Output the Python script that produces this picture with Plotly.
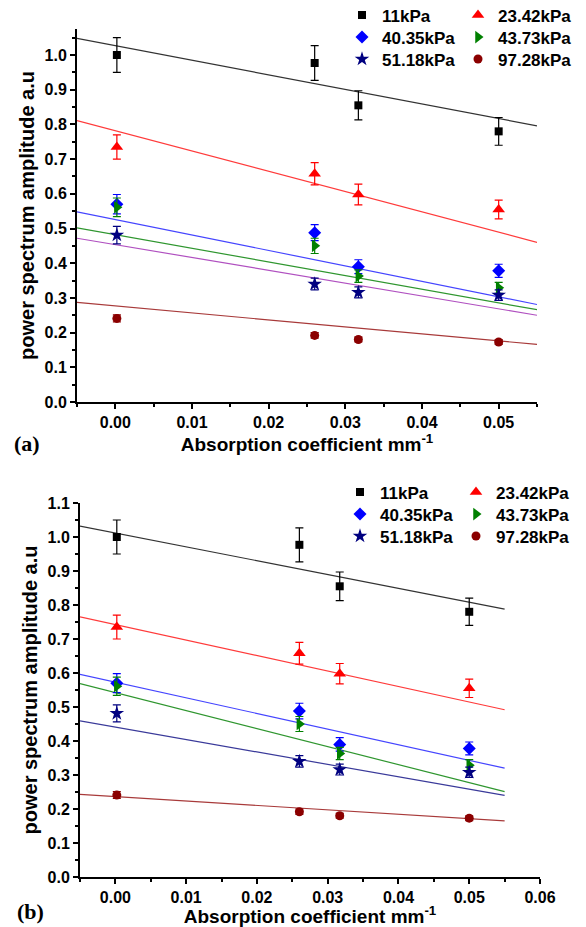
import plotly.graph_objects as go

# page is 586x927; the html body has an 8px margin, so the figure starts at (8, 8)
PAGE_W, PAGE_H = 586, 927
OFF = 8
W, H = PAGE_W - OFF, PAGE_H - OFF

# ---------------- data ----------------
absorption = [0.0002, 0.026, 0.0317, 0.05]
series_names = ["11kPa", "23.42kPa", "40.35kPa", "43.73kPa", "51.18kPa", "97.28kPa"]

amp_11 = [1.000, 0.977, 0.855, 0.780]
err_11 = [0.050, 0.050, 0.042, 0.040]
amp_23 = [0.735, 0.658, 0.598, 0.555]
err_23 = [0.035, 0.032, 0.030, 0.027]
amp_40 = [0.570, 0.488, 0.390, 0.378]
err_40 = [0.028, 0.023, 0.020, 0.019]
amp_43 = [0.561, 0.450, 0.363, 0.329]
err_43 = [0.027, 0.022, 0.018, 0.016]
amp_51 = [0.481, 0.340, 0.316, 0.308]
err_51 = [0.025, 0.017, 0.016, 0.015]
amp_97 = [0.241, 0.192, 0.180, 0.173]
err_97 = [0.010, 0.008, 0.007, 0.007]

# fitted lines, end points at x = -0.005 and 0.055
fit_x = [-0.005, 0.055]
fit_a_11 = [1.048, 0.796]
fit_a_23 = [0.811, 0.460]
fit_a_40 = [0.548, 0.281]
fit_a_43 = [0.502, 0.266]
fit_a_51 = [0.472, 0.250]
fit_a_97 = [0.287, 0.166]

fit_b_11 = [1.032, 0.788]
fit_b_23 = [0.765, 0.492]
fit_b_40 = [0.596, 0.320]
fit_b_43 = [0.569, 0.251]
fit_b_51 = [0.459, 0.240]
fit_b_97 = [0.243, 0.165]

# ---------------- style ----------------
amps = [amp_11, amp_23, amp_40, amp_43, amp_51, amp_97]
errs = [err_11, err_23, err_40, err_43, err_51, err_97]
fits_a = [fit_a_11, fit_a_23, fit_a_40, fit_a_43, fit_a_51, fit_a_97]
fits_b = [fit_b_11, fit_b_23, fit_b_40, fit_b_43, fit_b_51, fit_b_97]
symbols = ["square", "triangle-up", "diamond", "triangle-right", "star", "circle"]
mcolors = ["#000000", "#ff0000", "#0000ff", "#008000", "#000080", "#8b0000"]
msizes = [8, 11, 10, 11, 11, 9]
line_a = ["#333333", "#ff3b3b", "#4545ff", "#2f962f", "#b050c0", "#a83a3a"]
line_b = ["#333333", "#ff3b3b", "#4545ff", "#2f962f", "#3a3a9a", "#a83a3a"]

# legend entry positions (page px): symbol centre x, row centre y
leg_col_a = [363, 479]
leg_row_a = [15.5, 37.5, 59.5]
leg_col_b = [361, 477]
leg_row_b = [492.5, 514.5, 536.5]
# (column, row) of each series in the legend grid
leg_cell = [(0, 0), (1, 0), (0, 1), (1, 1), (0, 2), (1, 2)]


def fx(p):
    return (p - OFF) / W


def fy(p):
    return 1 - (p - OFF) / H


legfont = dict(family="Liberation Sans", size=17, color="black", weight="bold")
legends = {}

fig = go.Figure()

for panel, (xa, ya, fits, lcols, cols, rows) in enumerate([
        ("x", "y", fits_a, line_a, leg_col_a, leg_row_a),
        ("x2", "y2", fits_b, line_b, leg_col_b, leg_row_b)]):
    for i in range(6):
        fig.add_trace(go.Scatter(
            x=fit_x, y=fits[i], mode="lines", xaxis=xa, yaxis=ya,
            line=dict(color=lcols[i], width=1.2), showlegend=False,
            hoverinfo="skip"))
    for i in range(6):
        lname = "legend" if (panel == 0 and i == 0) else "legend%d" % (panel * 6 + i + 1)
        c, r = leg_cell[i]
        legends[lname] = dict(x=fx(cols[c] - 21), y=fy(rows[r]),
                              xanchor="left", yanchor="middle",
                              bgcolor="rgba(0,0,0,0)", font=legfont,
                              itemclick=False)
        fig.add_trace(go.Scatter(
            x=absorption, y=amps[i], mode="markers", name=series_names[i],
            xaxis=xa, yaxis=ya, legend=lname,
            marker=dict(symbol=symbols[i], color=mcolors[i], size=msizes[i],
                        line=dict(width=0)),
            error_y=dict(type="data", array=errs[i], color=mcolors[i],
                         thickness=1.2, width=4)))

tickfont = dict(family="Liberation Sans", size=16, color="black", weight="bold")
xtitlefont = dict(family="Liberation Sans", size=19, color="black", weight="bold")
ytitlefont = dict(family="Liberation Sans", size=20, color="black", weight="bold")


def xaxis_cfg(domain, rng, anchor):
    return dict(domain=domain, range=rng, anchor=anchor, showgrid=False, zeroline=False,
                showline=True, linecolor="black", linewidth=2,
                ticks="outside", ticklen=5, tickwidth=1.5, tickcolor="black",
                tick0=0, dtick=0.01, tickformat=".2f", tickfont=tickfont,
                minor=dict(dtick=0.005, tick0=0, ticks="outside", ticklen=3,
                           tickwidth=1.5, tickcolor="black"),
                title=dict(text="Absorption coefficient mm<sup>-1</sup>",
                           font=xtitlefont, standoff=1),
                automargin=False, mirror=False)


def yaxis_cfg(domain, rng, anchor):
    return dict(domain=domain, range=rng, anchor=anchor, showgrid=False,
                zeroline=False, showline=True, linecolor="black", linewidth=2,
                ticks="outside", ticklen=5, tickwidth=1.5, tickcolor="black",
                tick0=0, dtick=0.1, tickformat=".1f", tickfont=tickfont,
                minor=dict(dtick=0.05, tick0=0, ticks="outside", ticklen=3,
                           tickwidth=1.5, tickcolor="black"),
                title=dict(text="power spectrum amplitude a.u",
                           font=ytitlefont, standoff=5),
                automargin=False, mirror=False)


fig.update_layout(
    width=W, height=H, template="none",
    paper_bgcolor="white", plot_bgcolor="white",
    margin=dict(l=0, r=0, t=0, b=0, autoexpand=False),
    xaxis=xaxis_cfg([fx(77), fx(537)], [-0.005, 0.055], "y"),
    yaxis=yaxis_cfg([fy(402), fy(29)], [0, 1.075], "x"),
    xaxis2=xaxis_cfg([fx(80), fx(540)], [-0.005, 0.06], "y2"),
    yaxis2=yaxis_cfg([fy(877), fy(503)], [0, 1.1], "x2"),
    annotations=[
        dict(text="<b>(a)</b>", x=fx(12), y=fy(444), xref="paper", yref="paper",
             xanchor="left", yanchor="middle", showarrow=False,
             font=dict(family="Liberation Serif", size=22, color="black")),
        dict(text="<b>(b)</b>", x=fx(15), y=fy(911), xref="paper", yref="paper",
             xanchor="left", yanchor="middle", showarrow=False,
             font=dict(family="Liberation Serif", size=22, color="black")),
    ],
)
fig.update_layout(**legends)

fig.write_html("out.html")
